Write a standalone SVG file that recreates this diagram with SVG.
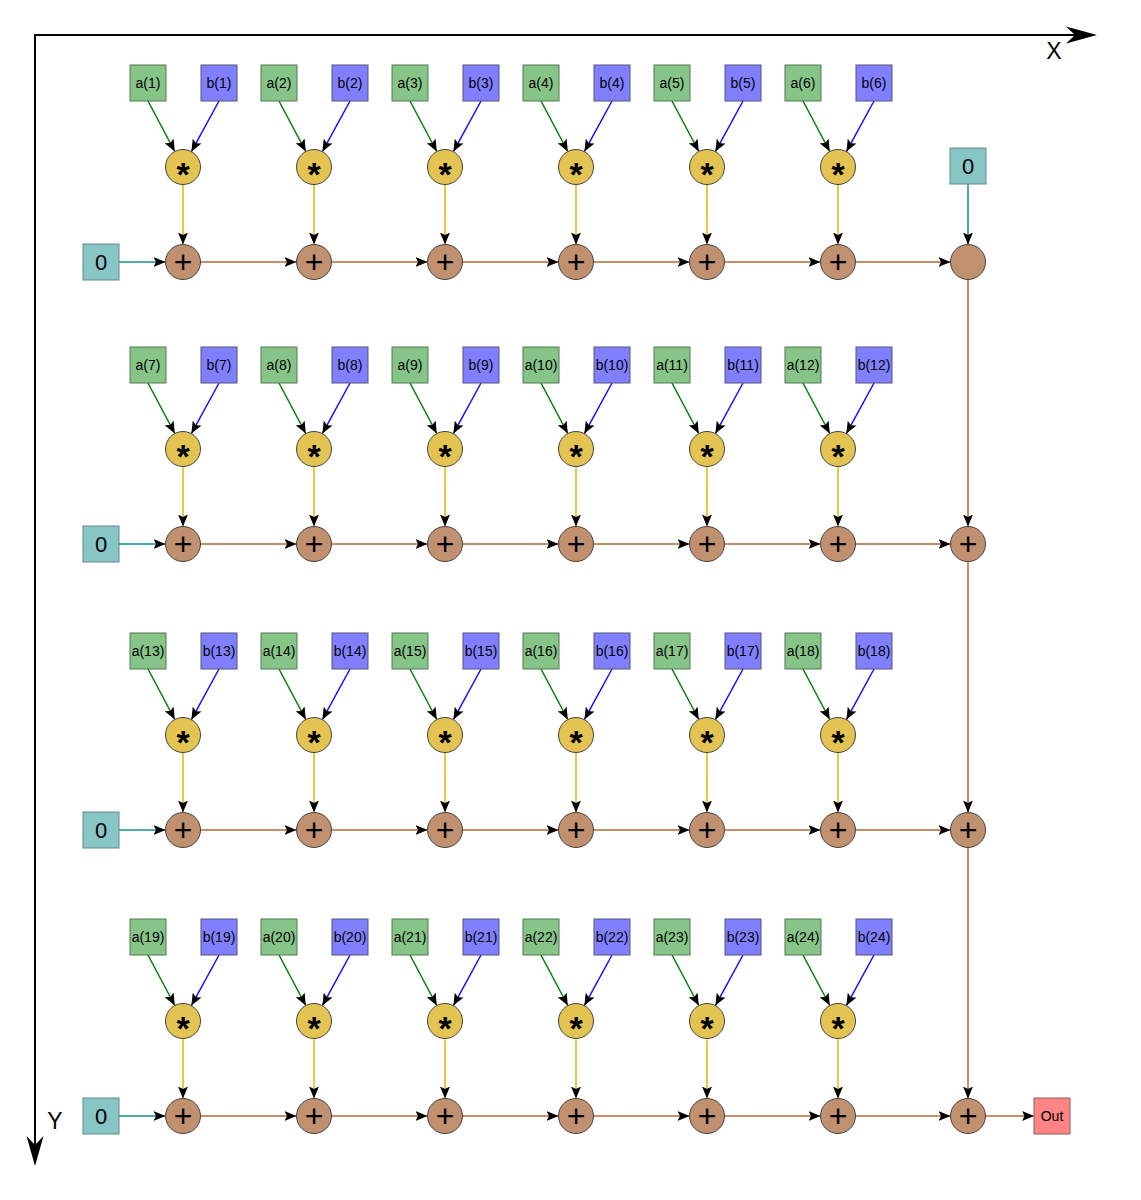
<svg xmlns="http://www.w3.org/2000/svg" width="1141" height="1200" viewBox="0 0 1141 1200">
<defs>
<marker id="ah" markerUnits="userSpaceOnUse" markerWidth="12" markerHeight="10" viewBox="0 0 12 10" refX="12" refY="5" orient="auto">
<path d="M0,0 L12,5 L0,10 L2.5,5 z" fill="#000"/>
</marker>
<style>
.ba{fill:#87c487;stroke:#557755;stroke-width:1}
.bb{fill:#8080ff;stroke:#55557a;stroke-width:1}
.bz{fill:#88c6c6;stroke:#668888;stroke-width:1}
.bo{fill:#ff8585;stroke:#886060;stroke-width:1}
.cs{fill:#e3c452;stroke:#444;stroke-width:1}
.cp{fill:#c0906f;stroke:#444;stroke-width:1}
.tl{font-family:"Liberation Sans",Arial,sans-serif;font-size:14px;text-anchor:middle;fill:#000}
.tz{font-family:"Liberation Sans",Arial,sans-serif;font-size:22px;text-anchor:middle;fill:#000}
.ts{font-family:"Liberation Sans",Arial,sans-serif;font-size:34px;font-weight:bold;text-anchor:middle;fill:#000}
.tp{font-family:"Liberation Sans",Arial,sans-serif;font-size:32px;text-anchor:middle;fill:#000}
.tx{font-family:"Liberation Sans",Arial,sans-serif;font-size:23px;text-anchor:middle;fill:#000}
.ea{stroke:#008000;stroke-width:1.5;fill:none;marker-end:url(#ah)}
.eb{stroke:#1010ff;stroke-width:1.5;fill:none;marker-end:url(#ah)}
.ey{stroke:#e6b400;stroke-width:1.5;fill:none;marker-end:url(#ah)}
.er{stroke:#b5683a;stroke-width:1.5;fill:none;marker-end:url(#ah)}
.et{stroke:#149090;stroke-width:1.5;fill:none;marker-end:url(#ah)}
</style>
</defs>
<rect width="1141" height="1200" fill="#fff"/>
<g id="axes">
<path d="M1078,35 L35,35 L35,1150" stroke="#000" stroke-width="2" fill="none"/>
<path d="M1097,35 L1066,26.5 L1075,35 L1066,43.5 z" fill="#000"/>
<path d="M35,1166 L26.5,1136 L35,1145 L43.5,1136 z" fill="#000"/>
<text class="tx" x="1054" y="59">X</text>
<text class="tx" x="55" y="1129">Y</text>
</g>
<g id="connectors">
<line class="ea" x1="148" y1="101" x2="174.8" y2="151.5"/><line class="ea" x1="279" y1="101" x2="305.8" y2="151.5"/><line class="ea" x1="410" y1="101" x2="436.8" y2="151.5"/><line class="ea" x1="541" y1="101" x2="567.8" y2="151.5"/><line class="ea" x1="672" y1="101" x2="698.8" y2="151.5"/><line class="ea" x1="803" y1="101" x2="829.8" y2="151.5"/>
<line class="eb" x1="219" y1="101" x2="191.4" y2="151.6"/><line class="eb" x1="350" y1="101" x2="322.4" y2="151.6"/><line class="eb" x1="481" y1="101" x2="453.4" y2="151.6"/><line class="eb" x1="612" y1="101" x2="584.4" y2="151.6"/><line class="eb" x1="743" y1="101" x2="715.4" y2="151.6"/><line class="eb" x1="874" y1="101" x2="846.4" y2="151.6"/>
<line class="ey" x1="183" y1="184.5" x2="183" y2="244.5"/><line class="ey" x1="314" y1="184.5" x2="314" y2="244.5"/><line class="ey" x1="445" y1="184.5" x2="445" y2="244.5"/><line class="ey" x1="576" y1="184.5" x2="576" y2="244.5"/><line class="ey" x1="707" y1="184.5" x2="707" y2="244.5"/><line class="ey" x1="838" y1="184.5" x2="838" y2="244.5"/>
<line class="et" x1="119" y1="262" x2="165.5" y2="262"/>
<line class="er" x1="200.5" y1="262" x2="296.5" y2="262"/><line class="er" x1="331.5" y1="262" x2="427.5" y2="262"/><line class="er" x1="462.5" y1="262" x2="558.5" y2="262"/><line class="er" x1="593.5" y1="262" x2="689.5" y2="262"/><line class="er" x1="724.5" y1="262" x2="820.5" y2="262"/><line class="er" x1="855.5" y1="262" x2="950.5" y2="262"/>

<line class="ea" x1="148" y1="383" x2="174.8" y2="433.5"/><line class="ea" x1="279" y1="383" x2="305.8" y2="433.5"/><line class="ea" x1="410" y1="383" x2="436.8" y2="433.5"/><line class="ea" x1="541" y1="383" x2="567.8" y2="433.5"/><line class="ea" x1="672" y1="383" x2="698.8" y2="433.5"/><line class="ea" x1="803" y1="383" x2="829.8" y2="433.5"/>
<line class="eb" x1="219" y1="383" x2="191.4" y2="433.6"/><line class="eb" x1="350" y1="383" x2="322.4" y2="433.6"/><line class="eb" x1="481" y1="383" x2="453.4" y2="433.6"/><line class="eb" x1="612" y1="383" x2="584.4" y2="433.6"/><line class="eb" x1="743" y1="383" x2="715.4" y2="433.6"/><line class="eb" x1="874" y1="383" x2="846.4" y2="433.6"/>
<line class="ey" x1="183" y1="466.5" x2="183" y2="526.5"/><line class="ey" x1="314" y1="466.5" x2="314" y2="526.5"/><line class="ey" x1="445" y1="466.5" x2="445" y2="526.5"/><line class="ey" x1="576" y1="466.5" x2="576" y2="526.5"/><line class="ey" x1="707" y1="466.5" x2="707" y2="526.5"/><line class="ey" x1="838" y1="466.5" x2="838" y2="526.5"/>
<line class="et" x1="119" y1="544" x2="165.5" y2="544"/>
<line class="er" x1="200.5" y1="544" x2="296.5" y2="544"/><line class="er" x1="331.5" y1="544" x2="427.5" y2="544"/><line class="er" x1="462.5" y1="544" x2="558.5" y2="544"/><line class="er" x1="593.5" y1="544" x2="689.5" y2="544"/><line class="er" x1="724.5" y1="544" x2="820.5" y2="544"/><line class="er" x1="855.5" y1="544" x2="950.5" y2="544"/>

<line class="ea" x1="148" y1="669" x2="174.8" y2="719.5"/><line class="ea" x1="279" y1="669" x2="305.8" y2="719.5"/><line class="ea" x1="410" y1="669" x2="436.8" y2="719.5"/><line class="ea" x1="541" y1="669" x2="567.8" y2="719.5"/><line class="ea" x1="672" y1="669" x2="698.8" y2="719.5"/><line class="ea" x1="803" y1="669" x2="829.8" y2="719.5"/>
<line class="eb" x1="219" y1="669" x2="191.4" y2="719.6"/><line class="eb" x1="350" y1="669" x2="322.4" y2="719.6"/><line class="eb" x1="481" y1="669" x2="453.4" y2="719.6"/><line class="eb" x1="612" y1="669" x2="584.4" y2="719.6"/><line class="eb" x1="743" y1="669" x2="715.4" y2="719.6"/><line class="eb" x1="874" y1="669" x2="846.4" y2="719.6"/>
<line class="ey" x1="183" y1="752.5" x2="183" y2="812.5"/><line class="ey" x1="314" y1="752.5" x2="314" y2="812.5"/><line class="ey" x1="445" y1="752.5" x2="445" y2="812.5"/><line class="ey" x1="576" y1="752.5" x2="576" y2="812.5"/><line class="ey" x1="707" y1="752.5" x2="707" y2="812.5"/><line class="ey" x1="838" y1="752.5" x2="838" y2="812.5"/>
<line class="et" x1="119" y1="830" x2="165.5" y2="830"/>
<line class="er" x1="200.5" y1="830" x2="296.5" y2="830"/><line class="er" x1="331.5" y1="830" x2="427.5" y2="830"/><line class="er" x1="462.5" y1="830" x2="558.5" y2="830"/><line class="er" x1="593.5" y1="830" x2="689.5" y2="830"/><line class="er" x1="724.5" y1="830" x2="820.5" y2="830"/><line class="er" x1="855.5" y1="830" x2="950.5" y2="830"/>

<line class="ea" x1="148" y1="955" x2="174.8" y2="1005.5"/><line class="ea" x1="279" y1="955" x2="305.8" y2="1005.5"/><line class="ea" x1="410" y1="955" x2="436.8" y2="1005.5"/><line class="ea" x1="541" y1="955" x2="567.8" y2="1005.5"/><line class="ea" x1="672" y1="955" x2="698.8" y2="1005.5"/><line class="ea" x1="803" y1="955" x2="829.8" y2="1005.5"/>
<line class="eb" x1="219" y1="955" x2="191.4" y2="1005.6"/><line class="eb" x1="350" y1="955" x2="322.4" y2="1005.6"/><line class="eb" x1="481" y1="955" x2="453.4" y2="1005.6"/><line class="eb" x1="612" y1="955" x2="584.4" y2="1005.6"/><line class="eb" x1="743" y1="955" x2="715.4" y2="1005.6"/><line class="eb" x1="874" y1="955" x2="846.4" y2="1005.6"/>
<line class="ey" x1="183" y1="1038.5" x2="183" y2="1098.5"/><line class="ey" x1="314" y1="1038.5" x2="314" y2="1098.5"/><line class="ey" x1="445" y1="1038.5" x2="445" y2="1098.5"/><line class="ey" x1="576" y1="1038.5" x2="576" y2="1098.5"/><line class="ey" x1="707" y1="1038.5" x2="707" y2="1098.5"/><line class="ey" x1="838" y1="1038.5" x2="838" y2="1098.5"/>
<line class="et" x1="119" y1="1116" x2="165.5" y2="1116"/>
<line class="er" x1="200.5" y1="1116" x2="296.5" y2="1116"/><line class="er" x1="331.5" y1="1116" x2="427.5" y2="1116"/><line class="er" x1="462.5" y1="1116" x2="558.5" y2="1116"/><line class="er" x1="593.5" y1="1116" x2="689.5" y2="1116"/><line class="er" x1="724.5" y1="1116" x2="820.5" y2="1116"/><line class="er" x1="855.5" y1="1116" x2="950.5" y2="1116"/>

<line class="et" x1="968" y1="184" x2="968" y2="244.5"/>
<line class="er" x1="968" y1="279.5" x2="968" y2="526.5"/>
<line class="er" x1="968" y1="561.5" x2="968" y2="812.5"/>
<line class="er" x1="968" y1="847.5" x2="968" y2="1098.5"/>
<line class="er" x1="985.5" y1="1116" x2="1034" y2="1116"/>
</g>

<g id="a1"><rect class="ba" x="130" y="65" width="36" height="36"/><text class="tl" x="148" y="88">a(1)</text></g>
<g id="b1"><rect class="bb" x="201" y="65" width="36" height="36"/><text class="tl" x="219" y="88">b(1)</text></g>
<g id="a2"><rect class="ba" x="261" y="65" width="36" height="36"/><text class="tl" x="279" y="88">a(2)</text></g>
<g id="b2"><rect class="bb" x="332" y="65" width="36" height="36"/><text class="tl" x="350" y="88">b(2)</text></g>
<g id="a3"><rect class="ba" x="392" y="65" width="36" height="36"/><text class="tl" x="410" y="88">a(3)</text></g>
<g id="b3"><rect class="bb" x="463" y="65" width="36" height="36"/><text class="tl" x="481" y="88">b(3)</text></g>
<g id="a4"><rect class="ba" x="523" y="65" width="36" height="36"/><text class="tl" x="541" y="88">a(4)</text></g>
<g id="b4"><rect class="bb" x="594" y="65" width="36" height="36"/><text class="tl" x="612" y="88">b(4)</text></g>
<g id="a5"><rect class="ba" x="654" y="65" width="36" height="36"/><text class="tl" x="672" y="88">a(5)</text></g>
<g id="b5"><rect class="bb" x="725" y="65" width="36" height="36"/><text class="tl" x="743" y="88">b(5)</text></g>
<g id="a6"><rect class="ba" x="785" y="65" width="36" height="36"/><text class="tl" x="803" y="88">a(6)</text></g>
<g id="b6"><rect class="bb" x="856" y="65" width="36" height="36"/><text class="tl" x="874" y="88">b(6)</text></g>

<g id="a7"><rect class="ba" x="130" y="347" width="36" height="36"/><text class="tl" x="148" y="370">a(7)</text></g>
<g id="b7"><rect class="bb" x="201" y="347" width="36" height="36"/><text class="tl" x="219" y="370">b(7)</text></g>
<g id="a8"><rect class="ba" x="261" y="347" width="36" height="36"/><text class="tl" x="279" y="370">a(8)</text></g>
<g id="b8"><rect class="bb" x="332" y="347" width="36" height="36"/><text class="tl" x="350" y="370">b(8)</text></g>
<g id="a9"><rect class="ba" x="392" y="347" width="36" height="36"/><text class="tl" x="410" y="370">a(9)</text></g>
<g id="b9"><rect class="bb" x="463" y="347" width="36" height="36"/><text class="tl" x="481" y="370">b(9)</text></g>
<g id="a10"><rect class="ba" x="523" y="347" width="36" height="36"/><text class="tl" x="541" y="370">a(10)</text></g>
<g id="b10"><rect class="bb" x="594" y="347" width="36" height="36"/><text class="tl" x="612" y="370">b(10)</text></g>
<g id="a11"><rect class="ba" x="654" y="347" width="36" height="36"/><text class="tl" x="672" y="370">a(11)</text></g>
<g id="b11"><rect class="bb" x="725" y="347" width="36" height="36"/><text class="tl" x="743" y="370">b(11)</text></g>
<g id="a12"><rect class="ba" x="785" y="347" width="36" height="36"/><text class="tl" x="803" y="370">a(12)</text></g>
<g id="b12"><rect class="bb" x="856" y="347" width="36" height="36"/><text class="tl" x="874" y="370">b(12)</text></g>

<g id="a13"><rect class="ba" x="130" y="633" width="36" height="36"/><text class="tl" x="148" y="656">a(13)</text></g>
<g id="b13"><rect class="bb" x="201" y="633" width="36" height="36"/><text class="tl" x="219" y="656">b(13)</text></g>
<g id="a14"><rect class="ba" x="261" y="633" width="36" height="36"/><text class="tl" x="279" y="656">a(14)</text></g>
<g id="b14"><rect class="bb" x="332" y="633" width="36" height="36"/><text class="tl" x="350" y="656">b(14)</text></g>
<g id="a15"><rect class="ba" x="392" y="633" width="36" height="36"/><text class="tl" x="410" y="656">a(15)</text></g>
<g id="b15"><rect class="bb" x="463" y="633" width="36" height="36"/><text class="tl" x="481" y="656">b(15)</text></g>
<g id="a16"><rect class="ba" x="523" y="633" width="36" height="36"/><text class="tl" x="541" y="656">a(16)</text></g>
<g id="b16"><rect class="bb" x="594" y="633" width="36" height="36"/><text class="tl" x="612" y="656">b(16)</text></g>
<g id="a17"><rect class="ba" x="654" y="633" width="36" height="36"/><text class="tl" x="672" y="656">a(17)</text></g>
<g id="b17"><rect class="bb" x="725" y="633" width="36" height="36"/><text class="tl" x="743" y="656">b(17)</text></g>
<g id="a18"><rect class="ba" x="785" y="633" width="36" height="36"/><text class="tl" x="803" y="656">a(18)</text></g>
<g id="b18"><rect class="bb" x="856" y="633" width="36" height="36"/><text class="tl" x="874" y="656">b(18)</text></g>

<g id="a19"><rect class="ba" x="130" y="919" width="36" height="36"/><text class="tl" x="148" y="942">a(19)</text></g>
<g id="b19"><rect class="bb" x="201" y="919" width="36" height="36"/><text class="tl" x="219" y="942">b(19)</text></g>
<g id="a20"><rect class="ba" x="261" y="919" width="36" height="36"/><text class="tl" x="279" y="942">a(20)</text></g>
<g id="b20"><rect class="bb" x="332" y="919" width="36" height="36"/><text class="tl" x="350" y="942">b(20)</text></g>
<g id="a21"><rect class="ba" x="392" y="919" width="36" height="36"/><text class="tl" x="410" y="942">a(21)</text></g>
<g id="b21"><rect class="bb" x="463" y="919" width="36" height="36"/><text class="tl" x="481" y="942">b(21)</text></g>
<g id="a22"><rect class="ba" x="523" y="919" width="36" height="36"/><text class="tl" x="541" y="942">a(22)</text></g>
<g id="b22"><rect class="bb" x="594" y="919" width="36" height="36"/><text class="tl" x="612" y="942">b(22)</text></g>
<g id="a23"><rect class="ba" x="654" y="919" width="36" height="36"/><text class="tl" x="672" y="942">a(23)</text></g>
<g id="b23"><rect class="bb" x="725" y="919" width="36" height="36"/><text class="tl" x="743" y="942">b(23)</text></g>
<g id="a24"><rect class="ba" x="785" y="919" width="36" height="36"/><text class="tl" x="803" y="942">a(24)</text></g>
<g id="b24"><rect class="bb" x="856" y="919" width="36" height="36"/><text class="tl" x="874" y="942">b(24)</text></g>

<g id="m1"><circle class="cs" cx="183" cy="167" r="17.5"/><text class="ts" x="183" y="186">*</text></g>
<g id="m2"><circle class="cs" cx="314" cy="167" r="17.5"/><text class="ts" x="314" y="186">*</text></g>
<g id="m3"><circle class="cs" cx="445" cy="167" r="17.5"/><text class="ts" x="445" y="186">*</text></g>
<g id="m4"><circle class="cs" cx="576" cy="167" r="17.5"/><text class="ts" x="576" y="186">*</text></g>
<g id="m5"><circle class="cs" cx="707" cy="167" r="17.5"/><text class="ts" x="707" y="186">*</text></g>
<g id="m6"><circle class="cs" cx="838" cy="167" r="17.5"/><text class="ts" x="838" y="186">*</text></g>
<g id="m7"><circle class="cs" cx="183" cy="449" r="17.5"/><text class="ts" x="183" y="468">*</text></g>
<g id="m8"><circle class="cs" cx="314" cy="449" r="17.5"/><text class="ts" x="314" y="468">*</text></g>
<g id="m9"><circle class="cs" cx="445" cy="449" r="17.5"/><text class="ts" x="445" y="468">*</text></g>
<g id="m10"><circle class="cs" cx="576" cy="449" r="17.5"/><text class="ts" x="576" y="468">*</text></g>
<g id="m11"><circle class="cs" cx="707" cy="449" r="17.5"/><text class="ts" x="707" y="468">*</text></g>
<g id="m12"><circle class="cs" cx="838" cy="449" r="17.5"/><text class="ts" x="838" y="468">*</text></g>
<g id="m13"><circle class="cs" cx="183" cy="735" r="17.5"/><text class="ts" x="183" y="754">*</text></g>
<g id="m14"><circle class="cs" cx="314" cy="735" r="17.5"/><text class="ts" x="314" y="754">*</text></g>
<g id="m15"><circle class="cs" cx="445" cy="735" r="17.5"/><text class="ts" x="445" y="754">*</text></g>
<g id="m16"><circle class="cs" cx="576" cy="735" r="17.5"/><text class="ts" x="576" y="754">*</text></g>
<g id="m17"><circle class="cs" cx="707" cy="735" r="17.5"/><text class="ts" x="707" y="754">*</text></g>
<g id="m18"><circle class="cs" cx="838" cy="735" r="17.5"/><text class="ts" x="838" y="754">*</text></g>
<g id="m19"><circle class="cs" cx="183" cy="1021" r="17.5"/><text class="ts" x="183" y="1040">*</text></g>
<g id="m20"><circle class="cs" cx="314" cy="1021" r="17.5"/><text class="ts" x="314" y="1040">*</text></g>
<g id="m21"><circle class="cs" cx="445" cy="1021" r="17.5"/><text class="ts" x="445" y="1040">*</text></g>
<g id="m22"><circle class="cs" cx="576" cy="1021" r="17.5"/><text class="ts" x="576" y="1040">*</text></g>
<g id="m23"><circle class="cs" cx="707" cy="1021" r="17.5"/><text class="ts" x="707" y="1040">*</text></g>
<g id="m24"><circle class="cs" cx="838" cy="1021" r="17.5"/><text class="ts" x="838" y="1040">*</text></g>

<g id="p1"><circle class="cp" cx="183" cy="262" r="17.5"/><text class="tp" x="183" y="273">+</text></g>
<g id="p2"><circle class="cp" cx="314" cy="262" r="17.5"/><text class="tp" x="314" y="273">+</text></g>
<g id="p3"><circle class="cp" cx="445" cy="262" r="17.5"/><text class="tp" x="445" y="273">+</text></g>
<g id="p4"><circle class="cp" cx="576" cy="262" r="17.5"/><text class="tp" x="576" y="273">+</text></g>
<g id="p5"><circle class="cp" cx="707" cy="262" r="17.5"/><text class="tp" x="707" y="273">+</text></g>
<g id="p6"><circle class="cp" cx="838" cy="262" r="17.5"/><text class="tp" x="838" y="273">+</text></g>
<g id="p7"><circle class="cp" cx="183" cy="544" r="17.5"/><text class="tp" x="183" y="555">+</text></g>
<g id="p8"><circle class="cp" cx="314" cy="544" r="17.5"/><text class="tp" x="314" y="555">+</text></g>
<g id="p9"><circle class="cp" cx="445" cy="544" r="17.5"/><text class="tp" x="445" y="555">+</text></g>
<g id="p10"><circle class="cp" cx="576" cy="544" r="17.5"/><text class="tp" x="576" y="555">+</text></g>
<g id="p11"><circle class="cp" cx="707" cy="544" r="17.5"/><text class="tp" x="707" y="555">+</text></g>
<g id="p12"><circle class="cp" cx="838" cy="544" r="17.5"/><text class="tp" x="838" y="555">+</text></g>
<g id="p13"><circle class="cp" cx="183" cy="830" r="17.5"/><text class="tp" x="183" y="841">+</text></g>
<g id="p14"><circle class="cp" cx="314" cy="830" r="17.5"/><text class="tp" x="314" y="841">+</text></g>
<g id="p15"><circle class="cp" cx="445" cy="830" r="17.5"/><text class="tp" x="445" y="841">+</text></g>
<g id="p16"><circle class="cp" cx="576" cy="830" r="17.5"/><text class="tp" x="576" y="841">+</text></g>
<g id="p17"><circle class="cp" cx="707" cy="830" r="17.5"/><text class="tp" x="707" y="841">+</text></g>
<g id="p18"><circle class="cp" cx="838" cy="830" r="17.5"/><text class="tp" x="838" y="841">+</text></g>
<g id="p19"><circle class="cp" cx="183" cy="1116" r="17.5"/><text class="tp" x="183" y="1127">+</text></g>
<g id="p20"><circle class="cp" cx="314" cy="1116" r="17.5"/><text class="tp" x="314" y="1127">+</text></g>
<g id="p21"><circle class="cp" cx="445" cy="1116" r="17.5"/><text class="tp" x="445" y="1127">+</text></g>
<g id="p22"><circle class="cp" cx="576" cy="1116" r="17.5"/><text class="tp" x="576" y="1127">+</text></g>
<g id="p23"><circle class="cp" cx="707" cy="1116" r="17.5"/><text class="tp" x="707" y="1127">+</text></g>
<g id="p24"><circle class="cp" cx="838" cy="1116" r="17.5"/><text class="tp" x="838" y="1127">+</text></g>

<g id="z1"><rect class="bz" x="83" y="244" width="36" height="36"/><text class="tz" x="101" y="270">0</text></g>
<g id="z2"><rect class="bz" x="83" y="526" width="36" height="36"/><text class="tz" x="101" y="552">0</text></g>
<g id="z3"><rect class="bz" x="83" y="812" width="36" height="36"/><text class="tz" x="101" y="838">0</text></g>
<g id="z4"><rect class="bz" x="83" y="1098" width="36" height="36"/><text class="tz" x="101" y="1124">0</text></g>
<g id="z0"><rect class="bz" x="950" y="148" width="36" height="36"/><text class="tz" x="968" y="174">0</text></g>

<g id="s0"><circle class="cp" cx="968" cy="262" r="17.5"/></g>
<g id="s1"><circle class="cp" cx="968" cy="544" r="17.5"/><text class="tp" x="968" y="555">+</text></g>
<g id="s2"><circle class="cp" cx="968" cy="830" r="17.5"/><text class="tp" x="968" y="841">+</text></g>
<g id="s3"><circle class="cp" cx="968" cy="1116" r="17.5"/><text class="tp" x="968" y="1127">+</text></g>
<g id="out"><rect class="bo" x="1034" y="1098" width="36" height="36"/><text class="tl" x="1052" y="1121">Out</text></g>
</svg>
